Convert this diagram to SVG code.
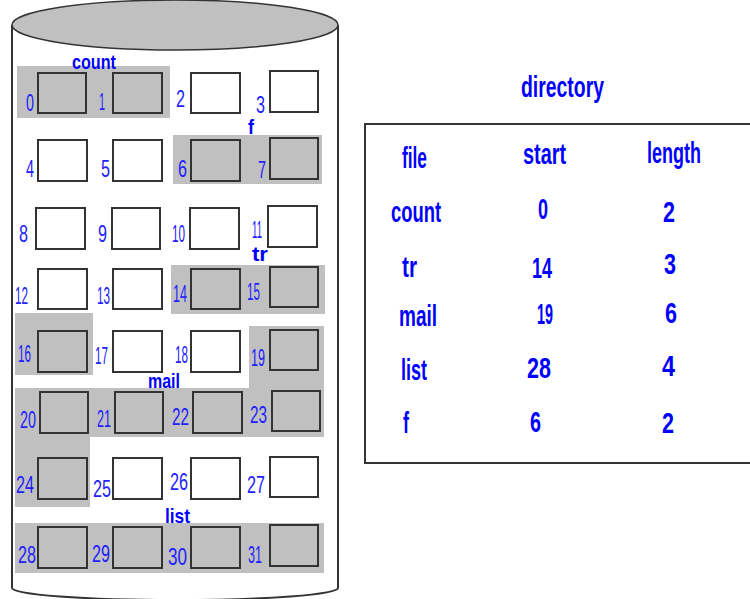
<svg xmlns="http://www.w3.org/2000/svg" width="750" height="599" viewBox="0 0 750 599">
<style>
.cell{stroke:#333;stroke-width:2;fill:#fff}
.used{fill:#c0c0c0}
.region{fill:#c0c0c0;stroke:none}
.num{font-family:"Liberation Sans",Arial,sans-serif;font-size:24px;fill:#2222ff}
.lbl{font-family:"Liberation Sans",Arial,sans-serif;font-weight:bold;font-size:21px;fill:#0000ff}
.tbl{font-family:"Liberation Sans",Arial,sans-serif;font-weight:bold;font-size:30px;fill:#0000ff}
</style>
<rect width="750" height="599" fill="#fff"/>
<g id="disk">
<path d="M12 25 V588 A163 12 0 0 0 338 588 V25" fill="#fff" stroke="#333" stroke-width="2"/>
<ellipse cx="175" cy="25" rx="163" ry="25" fill="#c0c0c0" stroke="#333" stroke-width="1.5"/>
</g>
<g id="regions">
<rect id="region-count" class="region" x="17" y="66" width="153" height="52"/>
<rect id="region-f" class="region" x="173" y="135" width="149" height="49"/>
<rect id="region-tr" class="region" x="171" y="265" width="154" height="49"/>
<rect id="region-16" class="region" x="15" y="313" width="78" height="62"/>
<path id="region-mail" class="region" d="M249 326 H324 V437 H90 V507 H15 V388 H249 Z"/>
<rect id="region-list" class="region" x="15" y="523" width="309" height="50"/>
</g>
<g id="connectors"/>
<g id="blocks">
<g id="b0"><rect class="cell used" x="38" y="73" width="48" height="40"/><text class="num" x="26" y="111" textLength="8" lengthAdjust="spacingAndGlyphs">0</text></g>
<g id="b1"><rect class="cell used" x="113" y="73" width="49" height="40"/><text class="num" x="99" y="110" textLength="6" lengthAdjust="spacingAndGlyphs">1</text></g>
<g id="b2"><rect class="cell" x="191" y="73" width="49" height="40"/><text class="num" x="176" y="107" textLength="9" lengthAdjust="spacingAndGlyphs">2</text></g>
<g id="b3"><rect class="cell" x="270" y="71" width="48" height="41"/><text class="num" x="256" y="113" textLength="9" lengthAdjust="spacingAndGlyphs">3</text></g>
<g id="b4"><rect class="cell" x="38" y="140" width="49" height="41"/><text class="num" x="26" y="177" textLength="8" lengthAdjust="spacingAndGlyphs">4</text></g>
<g id="b5"><rect class="cell" x="113" y="140" width="49" height="41"/><text class="num" x="101" y="177" textLength="9" lengthAdjust="spacingAndGlyphs">5</text></g>
<g id="b6"><rect class="cell used" x="191" y="140" width="49" height="41"/><text class="num" x="178" y="177" textLength="9" lengthAdjust="spacingAndGlyphs">6</text></g>
<g id="b7"><rect class="cell used" x="270" y="138" width="48" height="41"/><text class="num" x="258" y="178" textLength="8" lengthAdjust="spacingAndGlyphs">7</text></g>
<g id="b8"><rect class="cell" x="36" y="208" width="49" height="41"/><text class="num" x="19" y="242" textLength="9" lengthAdjust="spacingAndGlyphs">8</text></g>
<g id="b9"><rect class="cell" x="112" y="208" width="48" height="41"/><text class="num" x="98" y="242" textLength="9" lengthAdjust="spacingAndGlyphs">9</text></g>
<g id="b10"><rect class="cell" x="190" y="208" width="49" height="41"/><text class="num" x="172" y="242" textLength="13" lengthAdjust="spacingAndGlyphs">10</text></g>
<g id="b11"><rect class="cell" x="268" y="206" width="49" height="41"/><text class="num" x="252" y="238" textLength="10" lengthAdjust="spacingAndGlyphs">11</text></g>
<g id="b12"><rect class="cell" x="38" y="269" width="49" height="40"/><text class="num" x="15" y="304" textLength="13" lengthAdjust="spacingAndGlyphs">12</text></g>
<g id="b13"><rect class="cell" x="113" y="269" width="49" height="40"/><text class="num" x="97" y="304" textLength="13" lengthAdjust="spacingAndGlyphs">13</text></g>
<g id="b14"><rect class="cell used" x="191" y="269" width="49" height="40"/><text class="num" x="173" y="302" textLength="14" lengthAdjust="spacingAndGlyphs">14</text></g>
<g id="b15"><rect class="cell used" x="270" y="267" width="48" height="40"/><text class="num" x="247" y="300" textLength="13" lengthAdjust="spacingAndGlyphs">15</text></g>
<g id="b16"><rect class="cell used" x="38" y="331" width="49" height="41"/><text class="num" x="18" y="362" textLength="13" lengthAdjust="spacingAndGlyphs">16</text></g>
<g id="b17"><rect class="cell" x="113" y="331" width="49" height="41"/><text class="num" x="95" y="364" textLength="13" lengthAdjust="spacingAndGlyphs">17</text></g>
<g id="b18"><rect class="cell" x="191" y="331" width="49" height="41"/><text class="num" x="175" y="363" textLength="13" lengthAdjust="spacingAndGlyphs">18</text></g>
<g id="b19"><rect class="cell used" x="270" y="330" width="48" height="40"/><text class="num" x="251" y="366" textLength="14" lengthAdjust="spacingAndGlyphs">19</text></g>
<g id="b20"><rect class="cell used" x="40" y="392" width="48" height="41"/><text class="num" x="20" y="428" textLength="16" lengthAdjust="spacingAndGlyphs">20</text></g>
<g id="b21"><rect class="cell used" x="115" y="392" width="48" height="41"/><text class="num" x="97" y="427" textLength="14" lengthAdjust="spacingAndGlyphs">21</text></g>
<g id="b22"><rect class="cell used" x="193" y="392" width="49" height="41"/><text class="num" x="172" y="425" textLength="17" lengthAdjust="spacingAndGlyphs">22</text></g>
<g id="b23"><rect class="cell used" x="272" y="391" width="48" height="40"/><text class="num" x="250" y="423" textLength="17" lengthAdjust="spacingAndGlyphs">23</text></g>
<g id="b24"><rect class="cell used" x="38" y="458" width="49" height="41"/><text class="num" x="16" y="493" textLength="18" lengthAdjust="spacingAndGlyphs">24</text></g>
<g id="b25"><rect class="cell" x="113" y="458" width="49" height="41"/><text class="num" x="93" y="497" textLength="18" lengthAdjust="spacingAndGlyphs">25</text></g>
<g id="b26"><rect class="cell" x="191" y="458" width="49" height="41"/><text class="num" x="170" y="490" textLength="18" lengthAdjust="spacingAndGlyphs">26</text></g>
<g id="b27"><rect class="cell" x="270" y="457" width="48" height="40"/><text class="num" x="247" y="493" textLength="18" lengthAdjust="spacingAndGlyphs">27</text></g>
<g id="b28"><rect class="cell used" x="38" y="527" width="49" height="41"/><text class="num" x="18" y="563" textLength="18" lengthAdjust="spacingAndGlyphs">28</text></g>
<g id="b29"><rect class="cell used" x="113" y="527" width="49" height="41"/><text class="num" x="92" y="562" textLength="18" lengthAdjust="spacingAndGlyphs">29</text></g>
<g id="b30"><rect class="cell used" x="191" y="527" width="49" height="41"/><text class="num" x="168" y="565" textLength="19" lengthAdjust="spacingAndGlyphs">30</text></g>
<g id="b31"><rect class="cell used" x="270" y="525" width="48" height="41"/><text class="num" x="248" y="563" textLength="14" lengthAdjust="spacingAndGlyphs">31</text></g>
</g>
<g id="file-labels">
<text class="lbl" x="72" y="69" textLength="44" lengthAdjust="spacingAndGlyphs">count</text>
<text class="lbl" x="248" y="134" textLength="6" lengthAdjust="spacingAndGlyphs">f</text>
<text class="lbl" x="252" y="261" textLength="16" lengthAdjust="spacingAndGlyphs">tr</text>
<text class="lbl" x="148" y="388" textLength="32" lengthAdjust="spacingAndGlyphs">mail</text>
<text class="lbl" x="165" y="523" textLength="25" lengthAdjust="spacingAndGlyphs">list</text>
</g>
<g id="directory">
<text class="tbl" x="521" y="97" textLength="83" lengthAdjust="spacingAndGlyphs">directory</text>
<rect x="365" y="124" width="400" height="339" fill="#fff" stroke="#333" stroke-width="2"/>
<text class="tbl" x="402" y="168" textLength="25" lengthAdjust="spacingAndGlyphs">file</text>
<text class="tbl" x="523" y="164" textLength="43" lengthAdjust="spacingAndGlyphs">start</text>
<text class="tbl" x="647" y="163" textLength="54" lengthAdjust="spacingAndGlyphs">length</text>
<text class="tbl" x="391" y="222" textLength="50" lengthAdjust="spacingAndGlyphs">count</text>
<text class="tbl" x="538" y="219" textLength="10" lengthAdjust="spacingAndGlyphs">0</text>
<text class="tbl" x="663" y="222" textLength="12" lengthAdjust="spacingAndGlyphs">2</text>
<text class="tbl" x="402" y="277" textLength="15" lengthAdjust="spacingAndGlyphs">tr</text>
<text class="tbl" x="532" y="278" textLength="20" lengthAdjust="spacingAndGlyphs">14</text>
<text class="tbl" x="664" y="274" textLength="12" lengthAdjust="spacingAndGlyphs">3</text>
<text class="tbl" x="399" y="326" textLength="38" lengthAdjust="spacingAndGlyphs">mail</text>
<text class="tbl" x="537" y="324" textLength="16" lengthAdjust="spacingAndGlyphs">19</text>
<text class="tbl" x="665" y="323" textLength="12" lengthAdjust="spacingAndGlyphs">6</text>
<text class="tbl" x="401" y="380" textLength="26" lengthAdjust="spacingAndGlyphs">list</text>
<text class="tbl" x="527" y="378" textLength="24" lengthAdjust="spacingAndGlyphs">28</text>
<text class="tbl" x="662" y="376" textLength="13" lengthAdjust="spacingAndGlyphs">4</text>
<text class="tbl" x="403" y="433" textLength="6" lengthAdjust="spacingAndGlyphs">f</text>
<text class="tbl" x="530" y="432" textLength="11" lengthAdjust="spacingAndGlyphs">6</text>
<text class="tbl" x="662" y="433" textLength="12" lengthAdjust="spacingAndGlyphs">2</text>
</g>
</svg>
